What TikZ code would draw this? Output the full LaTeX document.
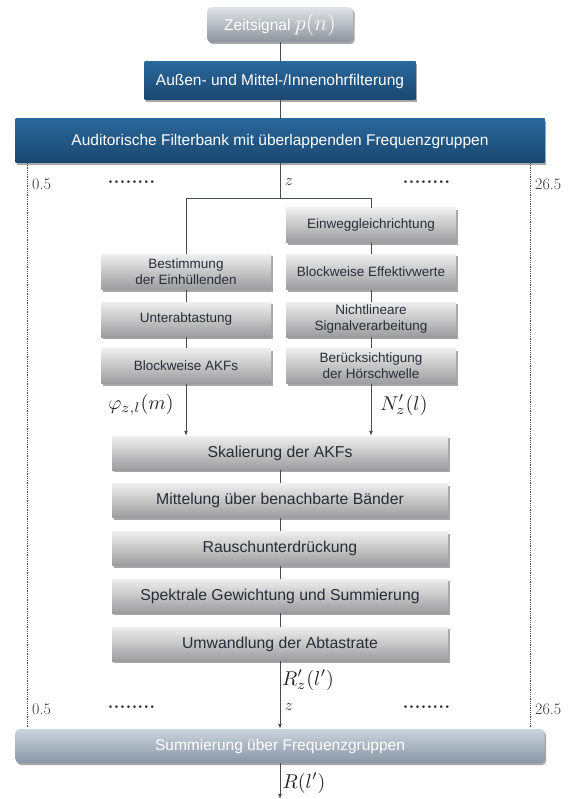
\documentclass[tikz,border=0pt]{standalone}
\usepackage{fontspec}
\newfontfamily\kastenfont{Liberation Sans}
\usetikzlibrary{arrows.meta, shadows}

\definecolor{blauoben}{RGB}{42,104,154}
\definecolor{blauunten}{RGB}{26,70,112}
\definecolor{grauoben}{RGB}{238,238,238}
\definecolor{grauunten}{RGB}{156,156,158}
\definecolor{zeitoben}{RGB}{224,228,232}
\definecolor{zeitunten}{RGB}{140,148,156}
\definecolor{summoben}{RGB}{204,212,221}
\definecolor{summunten}{RGB}{136,150,166}
\definecolor{schrift}{RGB}{40,45,55}
\definecolor{linie}{RGB}{70,75,85}

\newcommand{\punktreihe}{\textbf{........}}

\begin{document}
\begin{tikzpicture}[
  x=1pt, y=-1pt,
  filo/.style={draw=linie, line width=0.9pt},
  pfeil/.style={filo, -{Latex[length=5pt,width=4pt]}},
  punktiert/.style={draw=linie, line width=0.8pt, densely dotted},
  schatten/.style={drop shadow={shadow xshift=1.5pt, shadow yshift=-2pt, opacity=0.35, fill=black}},
  grau/.style={schatten, top color=grauoben, bottom color=grauunten, text=schrift, align=center, inner sep=2pt},
  hauptblock/.style={grau, minimum width=336, minimum height=34, font=\kastenfont\fontsize{15.8}{18}\selectfont},
  spaltenblock/.style={grau, minimum width=170, minimum height=35, font=\kastenfont\fontsize{13.5}{16}\selectfont},
  blaublock/.style={schatten, top color=blauoben, bottom color=blauunten, text=white, font=\kastenfont\fontsize{15.5}{18}\selectfont},
  zeitblock/.style={schatten, rounded corners=4pt, top color=zeitoben, bottom color=zeitunten, text=white, font=\kastenfont\fontsize{15.5}{18}\selectfont},
  summblock/.style={zeitblock, top color=summoben, bottom color=summunten},
  formel/.style={inner sep=1pt, text=black!85, scale=2},
  zvar/.style={inner sep=1pt, text=black!80, scale=1.6},
  zahl/.style={inner sep=1pt, text=black!80, font=\fontsize{16}{19}\selectfont},
  punkte/.style={inner sep=1pt, text=black!80, font=\fontsize{19}{19}\selectfont}
]
\useasboundingbox (0,0) rectangle (574,799);

% Eingang und Filterbank
\node[zeitblock, minimum width=146, minimum height=35] (zeit) at (280,24.5) {Zeitsignal \scalebox{1.55}{$p(n)$}};
\node[blaublock, minimum width=271, minimum height=38] (aussen) at (280,81) {Außen- und Mittel-/Innenohrfilterung};
\node[blaublock, minimum width=529, minimum height=44] (filterbank) at (280,141) {Auditorische Filterbank mit überlappenden Frequenzgruppen};

\draw[filo] (zeit) -- (aussen);
\draw[filo] (aussen) -- (filterbank);

% Bandbereich
\draw[punktiert] (27.5,163) -- (27.5,728);
\draw[punktiert] (530,163) -- (530,728);

\node[zahl, anchor=west] (untenA) at (31,184) {0.5};
\node[zahl, anchor=west] (obenA) at (534,184) {26.5};
\node[punkte] (punkteA) at (131.5,182) {\punktreihe};
\node[punkte] (punkteB) at (426.5,182) {\punktreihe};
\node[zvar] (zA) at (289,182) {$z$};

% Zwei Zweige
\coordinate (verzw) at (280,198.5);

\node[spaltenblock] (einweg) at (371,225.5) {Einweggleichrichtung};
\node[spaltenblock] (effektiv) at (371,272) {Blockweise Effektivwerte};
\node[spaltenblock] (nichtlin) at (371,319.5) {Nichtlineare\\Signalverarbeitung};
\node[spaltenblock] (hoerschw) at (371,366) {Berücksichtigung\\der Hörschwelle};

\node[spaltenblock] (einhuell) at (186,272) {Bestimmung\\der Einhüllenden};
\node[spaltenblock] (unterabt) at (186,319.5) {Unterabtastung};
\node[spaltenblock] (akf) at (186,366) {Blockweise AKFs};

\draw[filo] (filterbank.south) -- (verzw);
\draw[filo] (einhuell.north) |- (verzw) -| (einweg.north);
\draw[filo] (einweg) -- (effektiv);
\draw[filo] (effektiv) -- (nichtlin);
\draw[filo] (nichtlin) -- (hoerschw);
\draw[filo] (einhuell) -- (unterabt);
\draw[filo] (unterabt) -- (akf);

\node[formel] (phi) at (141,405) {$\varphi_{z,l}(m)$};
\node[formel] (nz) at (404,405) {$N'_z(l)$};

% Gemeinsame Verarbeitung
\node[hauptblock] (skal) at (280,453) {Skalierung der AKFs};
\node[hauptblock] (mittel) at (280,500.5) {Mittelung über benachbarte Bänder};
\node[hauptblock] (rausch) at (280,548.5) {Rauschunterdrückung};
\node[hauptblock] (spektral) at (280,596) {Spektrale Gewichtung und Summierung};
\node[hauptblock] (umwandl) at (280,644) {Umwandlung der Abtastrate};

\draw[pfeil] (akf.south) -- (akf.south |- skal.north);
\draw[pfeil] (hoerschw.south) -- (hoerschw.south |- skal.north);
\draw[filo] (skal) -- (mittel);
\draw[filo] (mittel) -- (rausch);
\draw[filo] (rausch) -- (spektral);
\draw[filo] (spektral) -- (umwandl);

\node[formel] (rz) at (308,680) {$R'_z(l')$};
\node[zahl, anchor=west] (untenB) at (31,709) {0.5};
\node[zahl, anchor=west] (obenB) at (534,709) {26.5};
\node[punkte] (punkteC) at (131.5,707) {\punktreihe};
\node[punkte] (punkteD) at (426.5,707) {\punktreihe};
\node[zvar] (zB) at (289,707) {$z$};

% Summierung
\node[summblock, minimum width=529, minimum height=34] (summ) at (280,746) {Summierung über Frequenzgruppen};
\coordinate (ende) at (280,799);

\draw[pfeil] (umwandl) -- (summ);
\draw[pfeil] (summ) -- (ende);
\node[formel] (rl) at (304,783) {$R(l')$};

\end{tikzpicture}
\end{document}
